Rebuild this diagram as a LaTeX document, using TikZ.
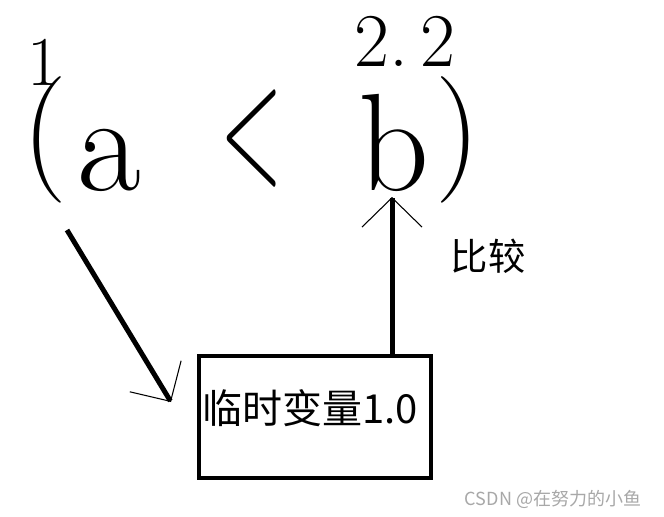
\documentclass[tikz,border=0pt]{standalone}
\usepackage{fontspec}
\newfontfamily\cjk{Noto Sans CJK SC}
\usetikzlibrary{arrows.meta}
\definecolor{markgray}{HTML}{A8A8A8}

\begin{document}
\begin{tikzpicture}[x=0.75pt, y=-0.75pt,
    glyph/.style={inner sep=0pt, font=\fontsize{104}{104}\selectfont},
    paren/.style={inner sep=0pt, font=\fontsize{95}{95}\selectfont},
    bar/.style={line width=3.75pt, -{Straight Barb[length=22pt, width=45pt, line width=0.8pt]}}]
  \path[fill=white] (0,0) rectangle (664,517);
  \node[paren] (lpar) at (45,140) {(};
  \node[glyph, anchor=base] (va) at (109,190) {a};
  \node[glyph] (lt) at (252,139) {\scalebox{0.59}[1.27]{<}};
  \node[glyph, anchor=base] (vb) at (394,190) {b};
  \node[paren] (rpar) at (457.5,140) {)};
  \node[inner sep=0pt, anchor=base, font=\fontsize{52.5}{52.5}\selectfont] (one) at (44,85) {1};
  \node[inner sep=0pt, anchor=base, font=\fontsize{57}{57}\selectfont] (twotwo) at (405,67) {2.\,2};
  \node[draw, line width=3pt, minimum width=174pt, minimum height=91.5pt] (box) at (315,417) {};
  \node[font=\cjk\fontsize{30}{30}\selectfont, inner sep=0pt] (tmpvar) at (310,408) {临时变量1.0};
  \node[font=\cjk\fontsize{28}{28}\selectfont, inner sep=0pt] (cmp) at (488,256) {比较};
  \node[font=\cjk\fontsize{13.5}{13.5}\selectfont, text=markgray, inner sep=0pt] (mark) at (553,499) {CSDN @在努力的小鱼};
  \coordinate (astart) at (67,230);
  \coordinate (atip) at (171,402);
  \coordinate (btip) at (392,197);
  \draw[bar] (astart) -- (atip);
  \draw[bar] (box.north -| btip) -- (btip);
\end{tikzpicture}
\end{document}
